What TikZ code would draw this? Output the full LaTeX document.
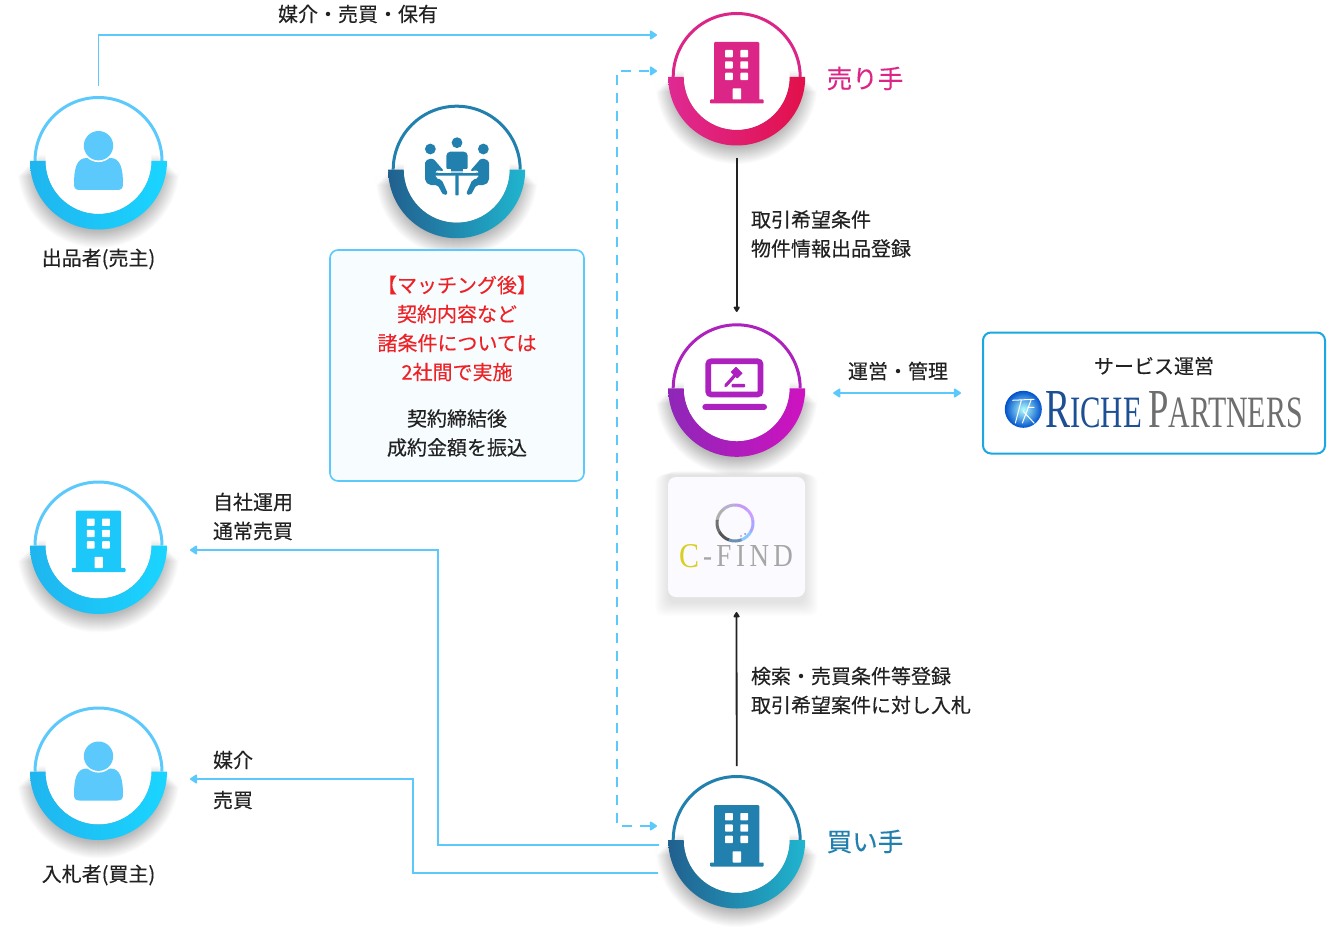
\documentclass[tikz,border=0pt]{standalone}
\usepackage{fontspec}
\setmainfont{Noto Sans CJK JP}[FakeBold=0.25]
\newfontfamily\lserif{Liberation Serif}
\usetikzlibrary{arrows.meta,calc}
\definecolor{skyline}{HTML}{5CC9FD}
\definecolor{inkc}{HTML}{222222}
\definecolor{pinkc}{HTML}{DC2687}
\definecolor{tealc}{HTML}{2180AE}
\definecolor{purpc}{HTML}{AD21BE}
\definecolor{redc}{HTML}{EE2226}
\definecolor{boxblue}{HTML}{1BA8E0}
\definecolor{skyA}{HTML}{1FB5EF}
\definecolor{skyB}{HTML}{1AD5FF}
\definecolor{pinkA}{HTML}{DF2A93}
\definecolor{pinkB}{HTML}{E2104A}
\definecolor{tealA}{HTML}{21608F}
\definecolor{tealB}{HTML}{20B5CF}
\definecolor{purpA}{HTML}{8E27B8}
\definecolor{purpB}{HTML}{CF12C0}
\definecolor{richeblue}{HTML}{1C4F94}
\definecolor{richegrey}{HTML}{6E6E6E}
\definecolor{cfgrey}{HTML}{A6A6A6}
\definecolor{cfyellow}{HTML}{D9CF20}
\tikzset{
  x=1pt,y=1pt,
  port/.style={inner sep=0pt,outer sep=0pt,minimum width=#1},
  flowline/.style={draw=skyline,line width=1.8pt,-{Triangle[round,length=8pt,width=10pt]}},
  flowboth/.style={draw=skyline,line width=1.8pt,{Triangle[round,length=8pt,width=10pt]}-{Triangle[round,length=8pt,width=10pt]}},
  dashline/.style={flowboth,dash pattern=on 10pt off 8pt},
  blackline/.style={draw=inkc,line width=1.8pt,-{Triangle[round,length=6pt,width=7pt]}},
  txt/.style={inner sep=0pt,outer sep=0pt,text=inkc,font=\fontsize{20}{20}\selectfont},
  big/.style={inner sep=0pt,outer sep=0pt,font=\fontsize{25.5}{26}\selectfont},
}
\newcommand{\dialring}[5]{% cx cy thin left right
  \begin{scope}[shift={(#1,-#2)}]
    \foreach \i in {0,...,21}{
      \fill[black,opacity=.017] ({-(60+\i)},{6-\i}) -- ({-(60+\i)},-6)
        arc[start angle=180,end angle=360,radius={(60+\i)*1pt}] -- ({60+\i},{6-\i}) -- cycle;
    }
    \draw[#3,line width=3pt] (63.5,0) arc[start angle=0,end angle=180,radius=63.5pt];
    \fill[white] (0,0) circle[radius=53pt];
    \shade[left color=#4,right color=#5] (-68.5,0) arc[start angle=180,end angle=360,radius=68.5pt]
      -- (53,0) arc[start angle=360,end angle=180,radius=53pt] -- cycle;
  \end{scope}}
\newcommand{\personicon}[2]{%
  \begin{scope}[shift={(#1,-#2)}]
    \fill[skyline] (-19,-29) -- (19,-29) .. controls (23,-29) and (24.5,-27) .. (24.5,-23)
      .. controls (24.5,-8) and (22,3) .. (12,3) -- (-12,3)
      .. controls (-22,3) and (-24.5,-8) .. (-24.5,-23)
      .. controls (-24.5,-27) and (-23,-29) .. (-19,-29) -- cycle;
    \fill[white] (0,15.3) circle[radius=16.4pt];
    \fill[skyline] (0,15.3) circle[radius=14.7pt];
  \end{scope}}
\newcommand{\buildicon}[3]{%
  \begin{scope}[shift={(#1,-#2)}]
    \fill[#3,rounded corners=1.2pt] (-22.7,-24) -- (-22.7,35) -- (22.7,35) -- (22.7,-24) -- cycle;
    \fill[#3,rounded corners=.8pt] (-26.7,-26.5) rectangle (27,-22.5);
    \foreach \wx in {-11.7,3.6}{\foreach \wy in {27,15.7,4.3}{
      \fill[white,rounded corners=.8pt] (\wx,\wy) rectangle ++(7.8,-7.4);}}
    \fill[white,rounded corners=.6pt] (-4,-11.3) rectangle (4.3,-22.5);
  \end{scope}}
\begin{document}
\begin{tikzpicture}
\useasboundingbox (0,0) rectangle (1327,-944);
\fill[white] (0,0) rectangle (1327,-944);

% anchor boxes for connectors
\node[port=183pt,minimum height=150pt] (sellerP) at (98.5,-161) {};
\node[port=159.4pt,minimum height=146pt] (seller) at (736.7,-85) {};
\node[port=193pt,minimum height=162pt] (gavel) at (736.7,-393) {};
\node[port=183pt,minimum height=120pt] (own) at (98.5,-550) {};
\node[port=183pt,minimum height=120pt] (bidder) at (98.5,-779) {};
\node[port=159.4pt,minimum height=148pt] (buyer) at (736.7,-840) {};

% rings and icons
\dialring{98.5}{161}{skyline}{skyA}{skyB}
\personicon{98.5}{161}
\dialring{98.5}{545.5}{skyline}{skyA}{skyB}
\buildicon{98.5}{545.5}{skyB!60!skyA}
\dialring{98.5}{771.5}{skyline}{skyA}{skyB}
\personicon{98.5}{771.5}
\dialring{736.7}{77}{pinkc}{pinkA}{pinkB}
\buildicon{736.7}{77}{pinkc}
\dialring{736.7}{840}{tealc}{tealA}{tealB}
\buildicon{736.7}{840}{tealc}
\dialring{736.7}{388.3}{purpc}{purpA}{purpB}
\dialring{456.7}{169.7}{tealc}{tealA}{tealB}

% meeting icon
\begin{scope}[shift={(456.7,-169.7)}]
 \begin{scope}[xshift=-86.67pt,yshift=74.67pt,x=.3333pt,y=-.3333pt]
  \fill[tealc] (261,143) circle[radius=5.4pt];
  \fill[tealc] (181,162) circle[radius=5.4pt];
  \fill[tealc] (340,162) circle[radius=5.4pt];
  \fill[tealc,rounded corners=4pt] (229,229) -- (229,170) -- (293,170) -- (293,229) -- cycle;
  \fill[tealc,rounded corners=.7pt] (190,233) rectangle (332,242);
  \fill[white] (205,222) -- (243,222) -- (243,233) -- (205,233) -- cycle;
  \fill[white] (279,222) -- (317,222) -- (317,233) -- (279,233) -- cycle;
  \fill[tealc,rounded corners=.7pt] (256,240) rectangle (266,301);
  \fill[tealc,rounded corners=2pt] (165,197) -- (188,189) -- (222,228) -- (197,226) -- (197,250) -- (215,254) -- (234,297) -- (220,301) -- (203,270) -- (177,270) -- (165,258) -- cycle;
  \begin{scope}[xshift=174pt,xscale=-1]
  \fill[tealc,rounded corners=2pt] (165,197) -- (188,189) -- (222,228) -- (197,226) -- (197,250) -- (215,254) -- (234,297) -- (220,301) -- (203,270) -- (177,270) -- (165,258) -- cycle;
  \end{scope}
 \end{scope}
\end{scope}

% laptop icon
\begin{scope}[shift={(736.7,-388.3)}]
 \begin{scope}[xshift=-86.67pt,yshift=78.33pt,x=.3333pt,y=-.3333pt]
  \draw[purpc,line width=5.7pt,rounded corners=3pt] (174.5,154) rectangle (331.5,253.5);
  \fill[purpc,rounded corners=3pt] (157,282) rectangle (351,300);
  \draw[purpc,line width=3.2pt,line cap=round] (262,188) -- (227,227);
  \fill[purpc,rounded corners=.6pt] (245,222) rectangle (285,232);
  \fill[purpc,rounded corners=.6pt] (258,170) -- (278,190) -- (262,206) -- (242,186) -- cycle;
 \end{scope}
\end{scope}

% meeting note card
\node[draw=skyline,line width=1.6pt,fill=skyline!5,rounded corners=8pt,minimum width=254pt,minimum height=231pt,inner sep=0pt] (note) at (457,-365.5) {};
\foreach \nm/\ty/\tx in {n1/285/【マッチング後】,n2/314/契約内容など,n3/343/諸条件については,n4/372/2社間で実施}{
  \node[txt,text=redc] (\nm) at (457,-\ty) {\tx};
}
\node[txt] (n5) at (457,-418.5) {契約締結後};
\node[txt] (n6) at (457,-447.5) {成約金額を振込};

% C-FIND card
\begin{scope}
  \foreach \i in {0,...,13}{
    \fill[black,opacity=.006,rounded corners=8pt] ({668-\i},{-477+6-\i*.3}) rectangle ({805+\i},{-597-6-\i});
  }
\end{scope}
\node[fill=blue!2!white,fill opacity=1,rounded corners=8pt,minimum width=137pt,minimum height=120pt,inner sep=0pt,outer sep=0pt] (cfind) at (736.5,-537) {};
\begin{scope}[shift={(735,-523)}]
  \foreach \a/\c in {-70/8CC8FF,-30/A9A6FF,10/C9A0FF,50/C49AF5,90/B8B0D0,130/B0B0B0,170/707070,210/555555,250/6C8FB0}{
    \definecolor{segc}{HTML}{\c}
    \draw[segc,line width=3pt] ({18*cos(\a)},{18*sin(\a)}) arc[start angle=\a,delta angle=41,radius=18pt];
  }
  \fill[skyline!60!purpc] (10,-11) circle[radius=1pt] (6,-13) circle[radius=.8pt];
\end{scope}
\node[inner sep=0pt,outer sep=0pt] (cfC) at (689,-556.5) {\resizebox{20pt}{23pt}{\lserif\color{cfyellow}C}};
\node[inner sep=0pt,outer sep=0pt] (cfT) at (748,-556.5) {\resizebox{90pt}{21pt}{\lserif\color{cfgrey}-\,F\,I\,N\,D}};

% service box
\node[draw=boxblue,line width=2pt,fill=white,rounded corners=8pt,minimum width=342pt,minimum height=121pt,inner sep=0pt] (service) at (1154,-393) {};
\node[txt] (sv) at (1154,-366) {サービス運営};
\shade[inner color=cyan!30!white,outer color=blue!60!cyan!80!black] (1023.3,-409.3) circle[radius=18.5pt];
\begin{scope}[shift={(1023.3,-409.3)}]
  \draw[white,line width=1pt] (-11,9) -- (11,10) (-2,9) -- (-8,-14) (8,10) -- (-1,-14) (0,-2) -- (11,-14) (4,2) -- (11,2) ;
\end{scope}
\node[inner sep=0pt,outer sep=0pt] (riche) at (1093.4,-409.5) {\resizebox{96.7pt}{36pt}{\lserif\color{richeblue}\fontsize{54}{54}\selectfont R\fontsize{44}{44}\selectfont ICHE}};
\node[inner sep=0pt,outer sep=0pt] (partners) at (1225.4,-409.5) {\resizebox{154.7pt}{36pt}{\lserif\color{richegrey}\fontsize{54}{54}\selectfont P\fontsize{44}{44}\selectfont ARTNERS}};

% connectors
\draw[flowline] (sellerP.north) |- ([yshift=50pt]seller.west);
\draw[dashline] ([yshift=14pt]buyer.west) -- ++(-40,0) |- ([yshift=14pt]seller.west);
\draw[flowline] ([xshift=2pt,yshift=-5pt]buyer.west) -- ++(-221,0) |- (own.east);
\draw[flowline] ([xshift=1pt,yshift=-33pt]buyer.west) -- ++(-245,0) |- (bidder.east);
\draw[blackline] (seller.south) -- (gavel.north);
\draw[blackline,shorten >=15pt] (buyer.north) -- (cfind.south);
\draw[flowboth,shorten >=21pt] (gavel.east) -- (service.west);

% labels
\node[txt] (a1) at (358,-14) {媒介・売買・保有};
\node[big,text=pinkc] (a2) at (865,-78.5) {売り手};
\node[big,text=tealc] (a3) at (865,-841.5) {買い手};
\node[txt,anchor=west] (a4) at (751,-219.5) {取引希望条件};
\node[txt,anchor=west] (a5) at (751,-248.5) {物件情報出品登録};
\node[txt] (a6) at (898,-371) {運営・管理};
\node[txt] (a7) at (98.5,-259) {出品者(売主)};
\node[txt] (a8) at (98.5,-875) {入札者(買主)};
\node[txt,anchor=west] (a9) at (213,-502) {自社運用};
\node[txt,anchor=west] (a10) at (213,-531) {通常売買};
\node[txt,anchor=west] (a11) at (213,-760) {媒介};
\node[txt,anchor=west] (a12) at (213,-800) {売買};
\node[txt,anchor=west] (a13) at (751,-676) {検索・売買条件等登録};
\node[txt,anchor=west] (a14) at (751,-705) {取引希望案件に対し入札};
\end{tikzpicture}
\end{document}
